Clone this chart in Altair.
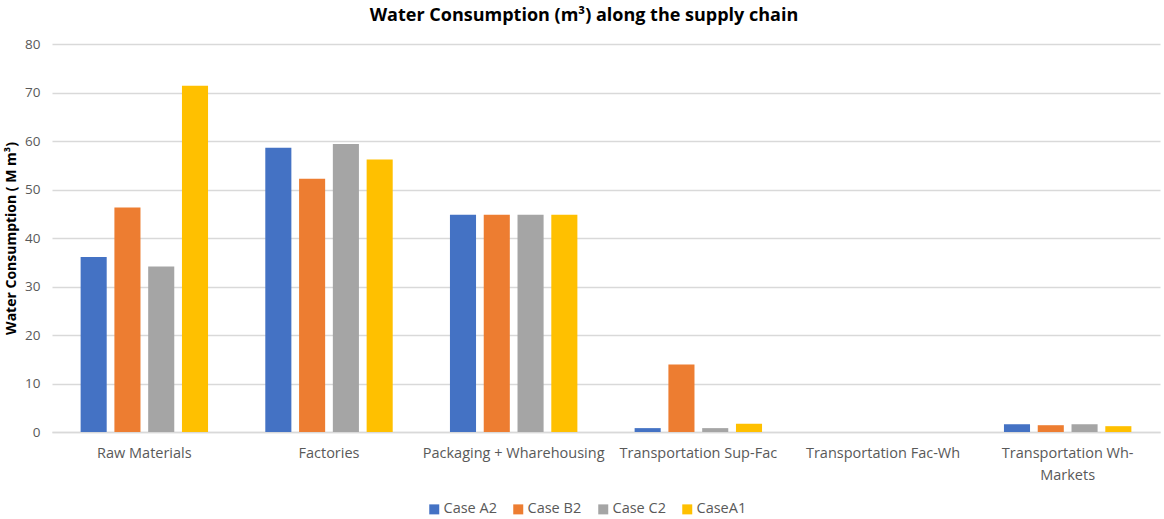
import altair as alt
import pandas as pd

# Supply-chain stages and per-case water consumption (million m³)
stages = [
    "Raw Materials",
    "Factories",
    "Packaging + Wharehousing",
    "Transportation Sup-Fac",
    "Transportation Fac-Wh",
    "Transportation Wh-Markets",
]
cases = ["Case A2", "Case B2", "Case C2", "CaseA1"]
colors = ["#4472C4", "#ED7D31", "#A5A5A5", "#FFC000"]

case_a2 = [36.1, 58.6, 44.8, 0.8, 0.0, 1.6]
case_b2 = [46.3, 52.2, 44.8, 13.9, 0.0, 1.4]
case_c2 = [34.1, 59.4, 44.8, 0.8, 0.0, 1.6]
case_a1 = [71.4, 56.2, 44.8, 1.7, 0.0, 1.2]

series = {"Case A2": case_a2, "Case B2": case_b2, "Case C2": case_c2, "CaseA1": case_a1}
rows = []
for case, vals in series.items():
    for stage, v in zip(stages, vals):
        rows.append({"stage": stage, "case": case, "value": v})
df = pd.DataFrame(rows)

FONT = "Open Sans"

chart = (
    alt.Chart(df)
    .mark_bar()
    .encode(
        x=alt.X(
            "stage:N",
            sort=stages,
            title=None,
            scale=alt.Scale(paddingInner=0.31, paddingOuter=0.155),
            axis=alt.Axis(
                labelAngle=0,
                labelFontSize=14.5,
                labelColor="#595959",
                labelFont=FONT,
                labelPadding=14,
                ticks=False,
                domainColor="#d9d9d9",
                domainWidth=1.5,
                labelLimit=300,
                labelExpr="datum.label == 'Transportation Wh-Markets' ? ['Transportation Wh-', 'Markets'] : datum.label",
                labelLineHeight=22,
            ),
        ),
        xOffset=alt.XOffset(
            "case:N",
            sort=cases,
            scale=alt.Scale(paddingInner=0.228, paddingOuter=0),
        ),
        y=alt.Y(
            "value:Q",
            title="Water Consumption ( M m³)",
            scale=alt.Scale(domain=[0, 80]),
            axis=alt.Axis(
                values=[0, 10, 20, 30, 40, 50, 60, 70, 80],
                labelFontSize=13.5,
                labelColor="#595959",
                labelFont=FONT,
                labelPadding=12,
                ticks=False,
                domain=False,
                gridColor="#d9d9d9",
                gridWidth=1.5,
                titleFont=FONT,
                titleFontSize=14,
                titleFontWeight="bold",
                titleColor="#000000",
                titlePadding=6,
            ),
        ),
        color=alt.Color(
            "case:N",
            sort=cases,
            scale=alt.Scale(domain=cases, range=colors),
            legend=alt.Legend(
                title=None,
                orient="none",
                direction="horizontal",
                legendX=375,
                legendY=458,
                symbolType="square",
                symbolSize=100,
                symbolStrokeWidth=0,
                labelFont=FONT,
                labelFontSize=14.5,
                labelColor="#595959",
                columnPadding=14,
                labelOffset=2,
            ),
        ),
    )
    .properties(
        width=1108,
        height=388,
        autosize=alt.AutoSizeParams(type="none"),
        padding={"left": 52, "top": 44, "right": 4, "bottom": 87},
        title=alt.TitleParams(
            "Water Consumption (m³) along the supply chain",
            font=FONT,
            fontSize=18,
            fontWeight="bold",
            color="#000000",
            anchor="middle",
            offset=12,
            dx=-22,
        ),
    )
    .configure_view(stroke=None)
)

chart.save("out.html", embed_options={"renderer": "svg", "actions": False})
